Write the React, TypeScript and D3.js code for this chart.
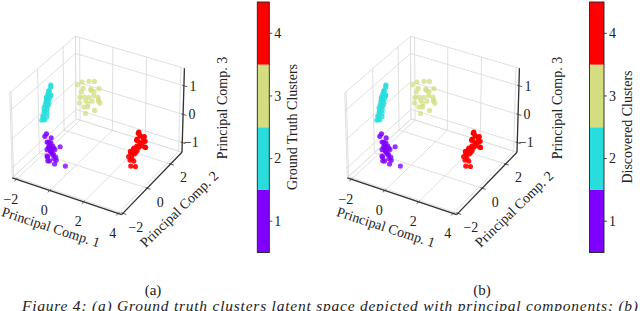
import * as d3 from "d3";

type P3 = [number, number, number];

const clusterIds = [1, 2, 3, 4];
const clusterColors = ["#8000ff", "#2adddd", "#d4dd80", "#ff0000"];
const xTicks = [-2, 0, 2, 4];
const yTicks = [-2, 0, 2];
const zTicks = [-1, 0, 1];

// cluster 1 (purple)
const cluster1: P3[] = [
  [-0.88, -0.9, -0.6], [-0.97, -0.85, -0.5], [-0.82, -1.0, -0.45], [-0.92, -0.8, -0.7],
  [-0.77, -0.95, -0.65], [-1.02, -0.95, -0.6], [-0.87, -0.7, -0.55], [-0.72, -0.85, -0.75],
  [-0.92, -1.05, -0.8], [-1.02, -0.8, -0.4], [-0.82, -0.9, -0.35], [-0.97, -1.0, -0.3],
  [-0.67, -0.9, -0.5], [-0.87, -1.1, -0.9], [-1.07, -0.9, -0.85], [-0.77, -0.75, -0.95],
  [-0.62, -0.8, -0.85], [-0.92, -0.9, -1.0], [-0.82, -0.6, -0.7], [-1.12, -0.7, -0.65],
  [-0.72, -1.05, -0.55], [-0.92, -0.75, -0.25], [-0.52, -0.9, -0.9], [-0.97, -0.6, -0.9],
  [-1.18, -0.9, -0.18], [-1.12, -0.85, -0.1], [-0.58, -0.5, -0.6], [-0.28, -0.5, -1.23],
  [-0.62, -0.9, -1.05],
];
// cluster 2 (cyan)
const cluster2: P3[] = [
  [-1.27, -0.26, 1.32], [-1.32, -0.2, 1.22], [-1.37, -0.3, 1.12], [-1.42, -0.2, 1.07],
  [-1.32, -0.35, 1.02], [-1.47, -0.25, 0.97], [-1.37, -0.15, 0.92], [-1.52, -0.3, 0.87],
  [-1.42, -0.35, 0.82], [-1.47, -0.15, 0.77], [-1.57, -0.25, 0.72], [-1.42, -0.25, 0.7],
  [-1.52, -0.4, 0.64], [-1.62, -0.2, 0.62], [-1.47, -0.3, 0.57], [-1.57, -0.1, 0.52],
  [-1.67, -0.3, 0.47], [-1.52, -0.25, 0.42], [-1.62, -0.35, 0.37], [-1.72, -0.2, 0.32],
  [-1.57, -0.2, 0.27], [-1.67, -0.4, 0.22], [-1.77, -0.25, 0.17], [-1.62, -0.15, 0.12],
  [-1.72, -0.3, 0.07], [-1.82, -0.3, 0.02], [-1.67, -0.25, 0.04], [-1.37, -0.45, 0.92],
  [-1.47, -0.05, 0.82],
];
// cluster 3 (yellow)
const cluster3: P3[] = [
  [-0.35, 1.5, 0.37], [-0.1, 1.6, 0.58], [-0.6, 1.4, 0.68], [0.0, 1.3, 0.38],
  [-0.4, 1.8, 0.48], [-0.7, 1.6, 0.28], [-0.2, 1.2, 0.18], [0.1, 1.7, 0.28],
  [-0.5, 1.3, 0.08], [-0.3, 1.9, 0.78], [-0.8, 1.5, 0.48], [0.2, 1.5, 0.48],
  [-0.15, 1.4, 0.73], [-0.55, 1.7, 0.03], [-0.05, 1.9, 0.13], [-0.65, 1.2, 0.43],
  [0.15, 1.3, 0.08], [-0.4, 1.6, 0.88], [-0.9, 1.7, 0.73], [-0.25, 1.1, -0.02],
  [0.05, 1.8, 0.63], [-0.45, 1.4, 0.28], [-0.75, 1.3, 0.18], [0.25, 1.6, 0.23],
  [-0.2, 1.7, 0.38], [-1.25, 1.8, 0.53],
];
// cluster 4 (red)
const cluster4: P3[] = [
  [3.6, 0.1, 0.45], [3.75, 0.0, 0.4], [3.5, 0.2, 0.35], [3.85, 0.2, 0.3],
  [3.65, -0.1, 0.3], [3.95, 0.0, 0.25], [3.7, 0.3, 0.2], [3.55, 0.0, 0.2],
  [3.9, 0.2, 0.15], [3.8, -0.1, 0.1], [3.6, 0.2, 0.05], [4.0, 0.1, 0.0],
  [3.7, 0.0, 0.0], [3.5, 0.1, -0.05], [3.8, 0.3, -0.1], [3.4, 0.0, -0.1],
  [3.6, -0.15, -0.15], [3.3, 0.1, -0.2], [3.45, 0.2, -0.25], [3.2, 0.0, -0.25],
  [3.35, -0.1, -0.3], [3.15, 0.1, -0.35], [3.3, 0.2, -0.4], [3.1, 0.0, -0.45],
  [3.25, -0.1, -0.5], [3.4, 0.0, -0.55], [3.15, 0.2, -0.6], [3.3, -0.1, -0.7],
  [3.5, 0.0, -0.72], [3.7, 0.2, 0.05],
];
const clusters = [cluster1, cluster2, cluster3, cluster4];

const panels = [
  { dx: 0, cbX: 257.3, cbW: 12, cbLabel: "Ground Truth Clusters", cbLabelX: 292, sub: "(a)", subX: 153 },
  { dx: 335, cbX: 589.5, cbW: 14.5, cbLabel: "Discovered Clusters", cbLabelX: 627.5, sub: "(b)", subX: 482 },
];

const xDomain = [-2.25, 4.2];
const yDomain = [-2.1, 3.0];
const zDomain = [-1.35, 1.6];

const elev = (33 * Math.PI) / 180;
const azim = (-60 * Math.PI) / 180;
const eyeDir = [Math.cos(elev) * Math.cos(azim), Math.cos(elev) * Math.sin(azim), Math.sin(elev)];
const rightDir = [-Math.sin(azim), Math.cos(azim), 0];
const upDir = [-Math.sin(elev) * Math.cos(azim), -Math.sin(elev) * Math.sin(azim), Math.cos(elev)];
const camDist = 30;
const K = 63;
const zHalf = 0.8;

const xs = d3.scaleLinear().domain(xDomain).range([-1, 1]);
const ys = d3.scaleLinear().domain(yDomain).range([-1, 1]);
const zs = d3.scaleLinear().domain(zDomain).range([-zHalf, zHalf]);

const font = "'Liberation Serif', 'DejaVu Serif', serif";
const gridColor = "#d8d8d8";
const axisColor = "#333";

const makeProjector = (cx: number, cy: number) => (X: number, Y: number, Z: number) => {
  const d = X * eyeDir[0] + Y * eyeDir[1] + Z * eyeDir[2];
  const f = camDist / (camDist - d);
  return {
    x: cx + K * f * (X * rightDir[0] + Y * rightDir[1]),
    y: cy - K * f * (X * upDir[0] + Y * upDir[1] + Z * upDir[2]),
    d,
  };
};

const fmt = (t: number) => (t < 0 ? "\u2212" + Math.abs(t) : String(t));

const Panel = ({ cfg }: { cfg: (typeof panels)[number] }) => {
  const pn = makeProjector(98 + cfg.dx, 123.3);
  const seg = (a: P3, b: P3) => {
    const p = pn(...a);
    const q = pn(...b);
    return `M${p.x},${p.y}L${q.x},${q.y}`;
  };
  const poly = (pts: P3[]) =>
    (d3.line()(pts.map((p) => {
      const s = pn(...p);
      return [s.x, s.y] as [number, number];
    })) as string) + "Z";

  const Zl = -zHalf;
  const Zh = zHalf;

  const panes = [
    poly([[-1, -1, Zl], [-1, 1, Zl], [-1, 1, Zh], [-1, -1, Zh]]),
    poly([[-1, 1, Zl], [1, 1, Zl], [1, 1, Zh], [-1, 1, Zh]]),
    poly([[-1, -1, Zl], [1, -1, Zl], [1, 1, Zl], [-1, 1, Zl]]),
  ];

  const grid: string[] = [];
  xTicks.forEach((t) => {
    const X = xs(t);
    grid.push(seg([X, -1, Zl], [X, 1, Zl]));
    grid.push(seg([X, 1, Zl], [X, 1, Zh]));
  });
  yTicks.forEach((t) => {
    const Y = ys(t);
    grid.push(seg([-1, Y, Zl], [1, Y, Zl]));
    grid.push(seg([-1, Y, Zl], [-1, Y, Zh]));
  });
  zTicks.forEach((t) => {
    const Z = zs(t);
    grid.push(seg([-1, -1, Z], [-1, 1, Z]));
    grid.push(seg([-1, 1, Z], [1, 1, Z]));
  });

  const axes = [
    seg([-1, -1, Zl], [1, -1, Zl]),
    seg([1, -1, Zl], [1, 1, Zl]),
    seg([1, 1, Zl], [1, 1, Zh]),
  ];
  const ticks = [
    ...xTicks.map((t) => seg([xs(t), -0.97, Zl], [xs(t), -1.06, Zl])),
    ...yTicks.map((t) => seg([0.97, ys(t), Zl], [1.06, ys(t), Zl])),
    ...zTicks.map((t) => seg([0.97, 1, zs(t)], [1.06, 1, zs(t)])),
  ];

  const pts = clusters
    .flatMap((c, ci) =>
      c.map((p) => ({ ...pn(xs(p[0]), ys(p[1]), zs(p[2])), ci }))
    )
    .sort((a, b) => a.d - b.d);
  const alpha = d3
    .scaleLinear()
    .domain(d3.extent(pts, (p) => p.d) as [number, number])
    .range([0.7, 1]);

  const cb = d3.scaleLinear().domain([0.5, 4.5]).range([252.5, 2]);

  return (
    <g>
      {panes.map((d, i) => (
        <path key={"pane" + i} d={d} fill="#fff" stroke={gridColor} strokeWidth={0.8} />
      ))}
      {grid.map((d, i) => (
        <path key={"g" + i} d={d} stroke={gridColor} strokeWidth={0.8} fill="none" />
      ))}
      {axes.map((d, i) => (
        <path key={"a" + i} d={d} stroke={axisColor} strokeWidth={1.3} fill="none" />
      ))}
      {ticks.map((d, i) => (
        <path key={"t" + i} d={d} stroke={axisColor} strokeWidth={0.8} fill="none" />
      ))}
      {pts.map((p, i) => (
        <circle
          key={"p" + i}
          cx={p.x}
          cy={p.y}
          r={2.6}
          fill={clusterColors[p.ci]}
          fillOpacity={alpha(p.d)}
        />
      ))}
      <g fontFamily={font} fontSize={14} fill="#222" textAnchor="middle">
        {xTicks.map((t) => {
          const s = pn(xs(t), -1, Zl);
          return (
            <text key={"xl" + t} x={s.x - 5.5} y={s.y + 19.5} dy="0.35em">
              {fmt(t)}
            </text>
          );
        })}
        {yTicks.map((t) => {
          const s = pn(1, ys(t), Zl);
          return (
            <text key={"yl" + t} x={s.x + 13} y={s.y + 13.5} dy="0.35em">
              {fmt(t)}
            </text>
          );
        })}
        {zTicks.map((t) => {
          const s = pn(1, 1, zs(t));
          return (
            <text key={"zl" + t} x={s.x + 9} y={s.y} dy="0.35em">
              {fmt(t)}
            </text>
          );
        })}
        <text transform={`translate(${51 + cfg.dx},227) rotate(18)`} dy="0.35em">
          Principal Comp. 1
        </text>
        <text transform={`translate(${179 + cfg.dx},209) rotate(-44)`} dy="0.35em">
          Principal Comp. 2
        </text>
        <text transform={`translate(${222 + cfg.dx},108) rotate(-90)`} dy="0.35em">
          Principal Comp. 3
        </text>
      </g>
      {clusterIds.map((id, i) => (
        <rect
          key={"cb" + id}
          x={cfg.cbX}
          y={cb(id + 0.5)}
          width={cfg.cbW}
          height={cb(id - 0.5) - cb(id + 0.5)}
          fill={clusterColors[i]}
        />
      ))}
      <rect
        x={cfg.cbX}
        y={cb(4.5)}
        width={cfg.cbW}
        height={cb(0.5) - cb(4.5)}
        fill="none"
        stroke="#222"
        strokeWidth={0.9}
      />
      <g fontFamily={font} fontSize={14} fill="#222">
        {clusterIds.map((id) => (
          <g key={"cbt" + id}>
            <line
              x1={cfg.cbX + cfg.cbW}
              x2={cfg.cbX + cfg.cbW + 3}
              y1={cb(id)}
              y2={cb(id)}
              stroke="#222"
              strokeWidth={0.8}
            />
            <text x={cfg.cbX + cfg.cbW + 5} y={cb(id)} dy="0.35em">
              {id}
            </text>
          </g>
        ))}
        <text
          transform={`translate(${cfg.cbLabelX},127) rotate(-90)`}
          textAnchor="middle"
          dy="0.35em"
        >
          {cfg.cbLabel}
        </text>
        <text x={cfg.subX} y={295} textAnchor="middle" fontSize={15}>
          {cfg.sub}
        </text>
      </g>
    </g>
  );
};

export default function App() {
  return (
    <svg
      width={640}
      height={311}
      style={{ position: "absolute", left: 0, top: 0, background: "#fff" }}
    >
      {panels.map((cfg, i) => (
        <Panel key={i} cfg={cfg} />
      ))}
      <text
        x={22}
        y={311}
        fontFamily={font}
        fontStyle="italic"
        fontSize={15.5}
        fill="#222"
        textLength={616}
        lengthAdjust="spacing"
      >
        Figure 4: (a) Ground truth clusters latent space depicted with principal components; (b)
      </text>
    </svg>
  );
}
